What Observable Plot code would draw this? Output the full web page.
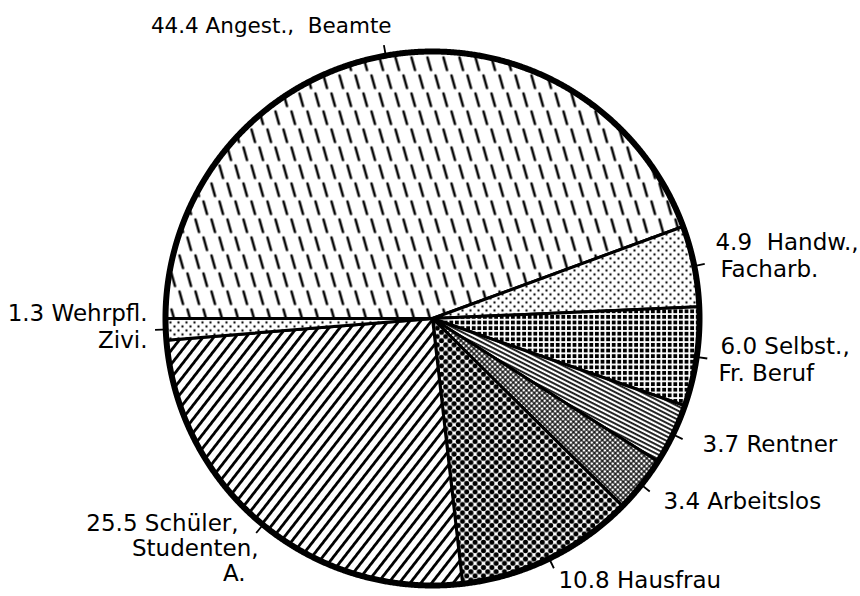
<!DOCTYPE html>
<html>
<head>
<meta charset="utf-8">
<script src="https://cdn.jsdelivr.net/npm/d3@7"></script>
<script src="https://cdn.jsdelivr.net/npm/@observablehq/plot@0.6"></script>
<style>
  html, body { margin: 0; padding: 0; background: #fff; }
  #chart { width: 860px; height: 596px; }
</style>
</head>
<body>
<svg width="0" height="0" style="position:absolute">
  <defs>
    <pattern id="pat0" patternUnits="userSpaceOnUse" width="16" height="36">
      <rect width="16" height="36" fill="#fff"/>
      <path d="M3,3 L6.5,15.5 M11,21 L14.5,33.5" stroke="#000" stroke-width="2.5" stroke-linecap="round"/>
    </pattern>
    <pattern id="pat1" patternUnits="userSpaceOnUse" width="8" height="8">
      <rect width="8" height="8" fill="#fff"/>
      <circle cx="2" cy="2" r="1.15" fill="#000"/>
      <circle cx="6" cy="6" r="1.15" fill="#000"/>
    </pattern>
    <pattern id="pat2" patternUnits="userSpaceOnUse" width="5.6" height="5.6">
      <rect width="5.6" height="5.6" fill="#fff"/>
      <rect x="0.9" y="0.9" width="3.8" height="3.8" fill="#000"/>
    </pattern>
    <pattern id="pat3" patternUnits="userSpaceOnUse" width="10" height="4" patternTransform="rotate(27)">
      <rect width="10" height="4" fill="#fff"/>
      <rect x="0" y="1.1" width="10" height="1.7" fill="#000"/>
    </pattern>
    <pattern id="pat4" patternUnits="userSpaceOnUse" width="3.7" height="3.7" patternTransform="rotate(45)">
      <rect width="3.7" height="3.7" fill="#000"/>
      <rect x="0.6" y="0.6" width="2.5" height="2.5" fill="#fff"/>
    </pattern>
    <pattern id="pat5" patternUnits="userSpaceOnUse" width="8.4" height="8.4">
      <rect width="8.4" height="8.4" fill="#fff"/>
      <circle cx="0" cy="0" r="2.55" fill="#000"/>
      <circle cx="8.4" cy="0" r="2.55" fill="#000"/>
      <circle cx="0" cy="8.4" r="2.55" fill="#000"/>
      <circle cx="8.4" cy="8.4" r="2.55" fill="#000"/>
      <circle cx="4.2" cy="4.2" r="2.55" fill="#000"/>
    </pattern>
    <pattern id="pat6" patternUnits="userSpaceOnUse" width="8.5" height="10" patternTransform="rotate(38)">
      <rect width="8.5" height="10" fill="#fff"/>
      <rect x="0" y="0" width="2.8" height="10" fill="#000"/>
    </pattern>
    <pattern id="pat7" patternUnits="userSpaceOnUse" width="8" height="8">
      <rect width="8" height="8" fill="#fff"/>
      <circle cx="2" cy="2" r="1.15" fill="#000"/>
      <circle cx="6" cy="6" r="1.15" fill="#000"/>
    </pattern>
  </defs>
</svg>
<div id="chart"></div>
<script>
// ---- Data ----
const categories = [
  "Angest.,  Beamte",
  "Handw.,\nFacharb.",
  "Selbst.,\nFr. Beruf",
  "Rentner",
  "Arbeitslos",
  "Hausfrau",
  "Schüler,\nStudenten,\nA.",
  "Wehrpfl.\nZivi."
];
const values = [44.4, 4.9, 6.0, 3.7, 3.4, 10.8, 25.5, 1.3];
const valueLabels = ["44.4", "4.9 ", "6.0", "3.7", "3.4", "10.8", "25.5", "1.3"];

// ---- Layout (pixels) ----
const W = 860, H = 596, CX = 432, CY = 318, R = 267, FS = 23;
// per category: text anchor, font size and, per line, [dx, baseline dy] relative to tick end
const labelLayout = [
  {anchor: "start", size: 21.5, lines: [[-233, -12.6]]},
  {anchor: "start", size: FS, lines: [[10.7, -13.4], [15.7, 13.6]]},
  {anchor: "start", size: FS, lines: [[13.2, -4], [11.2, 22.5]]},
  {anchor: "start", size: FS, lines: [[19.9, 13.4]]},
  {anchor: "start", size: FS, lines: [[13.7, 17.1]]},
  {anchor: "start", size: FS, lines: [[4.6, 20.2]]},
  {anchor: "end",   size: FS, lines: [[-17.6, -2.5], [2.4, 22.5], [-10.6, 47.5]]},
  {anchor: "end",   size: FS, lines: [[-7.5, -9.3], [-7.5, 17.7]]}
];

// ---- Geometry from data ----
const arcs = d3.pie().sort(null).value(d => d)
  .startAngle(-Math.PI / 2).endAngle(1.5 * Math.PI)(values);

const slicePts = [];
arcs.forEach((s, i) => {
  slicePts.push({i, x: 0, y: 0});
  const n = Math.max(2, Math.ceil((s.endAngle - s.startAngle) / 0.004));
  for (let k = 0; k <= n; k++) {
    const a = s.startAngle + (s.endAngle - s.startAngle) * k / n;
    slicePts.push({i, x: Math.sin(a), y: Math.cos(a)});
  }
  slicePts.push({i, x: 0, y: 0});
});

const circle = d3.range(0, 1441).map(k => {
  const a = k / 1440 * 2 * Math.PI;
  return {x: Math.sin(a), y: Math.cos(a)};
});

const ticks = arcs.map((s, i) => {
  const a = (s.startAngle + s.endAngle) / 2;
  return {i, x1: 0.99 * Math.sin(a), y1: 0.99 * Math.cos(a), x2: 1.04 * Math.sin(a), y2: 1.04 * Math.cos(a)};
});

const labels = [];
arcs.forEach((s, i) => {
  const t = ticks[i];
  const lines = categories[i].split("\n");
  lines.forEach((ln, j) => {
    const [dx, dy] = labelLayout[i].lines[j];
    labels.push({
      anchor: labelLayout[i].anchor,
      size: labelLayout[i].size,
      text: j === 0 ? valueLabels[i] + " " + ln : ln,
      x: t.x2 + dx / R,
      y: t.y2 - dy / R
    });
  });
});

const textMark = (filter) => Plot.text(labels.filter(filter.f), {
  x: "x", y: "y", text: "text", textAnchor: filter.anchor, lineAnchor: "bottom",
  fontSize: filter.size, fontFamily: "DejaVu Sans", fill: "#000"
});

const chart = Plot.plot({
  width: W, height: H, margin: 0,
  x: {domain: [-CX / R, (W - CX) / R], axis: null},
  y: {domain: [-(H - CY) / R, CY / R], axis: null},
  color: {type: "identity"},
  style: {background: "#fff", overflow: "visible"},
  marks: [
    Plot.line(slicePts, {x: "x", y: "y", z: "i", fill: d => `url(#pat${d.i})`,
      stroke: "#000", strokeWidth: 3, strokeLinejoin: "round"}),
    Plot.line(circle, {x: "x", y: "y", stroke: "#000", strokeWidth: 6}),
    Plot.link(ticks, {x1: "x1", y1: "y1", x2: "x2", y2: "y2", stroke: "#000", strokeWidth: 1.8}),
    textMark({f: d => d.anchor === "start" && d.size !== FS, anchor: "start", size: 21.5}),
    textMark({f: d => d.anchor === "start" && d.size === FS, anchor: "start", size: FS}),
    textMark({f: d => d.anchor === "end", anchor: "end", size: FS})
  ]
});
document.getElementById("chart").appendChild(chart);
</script>
</body>
</html>
